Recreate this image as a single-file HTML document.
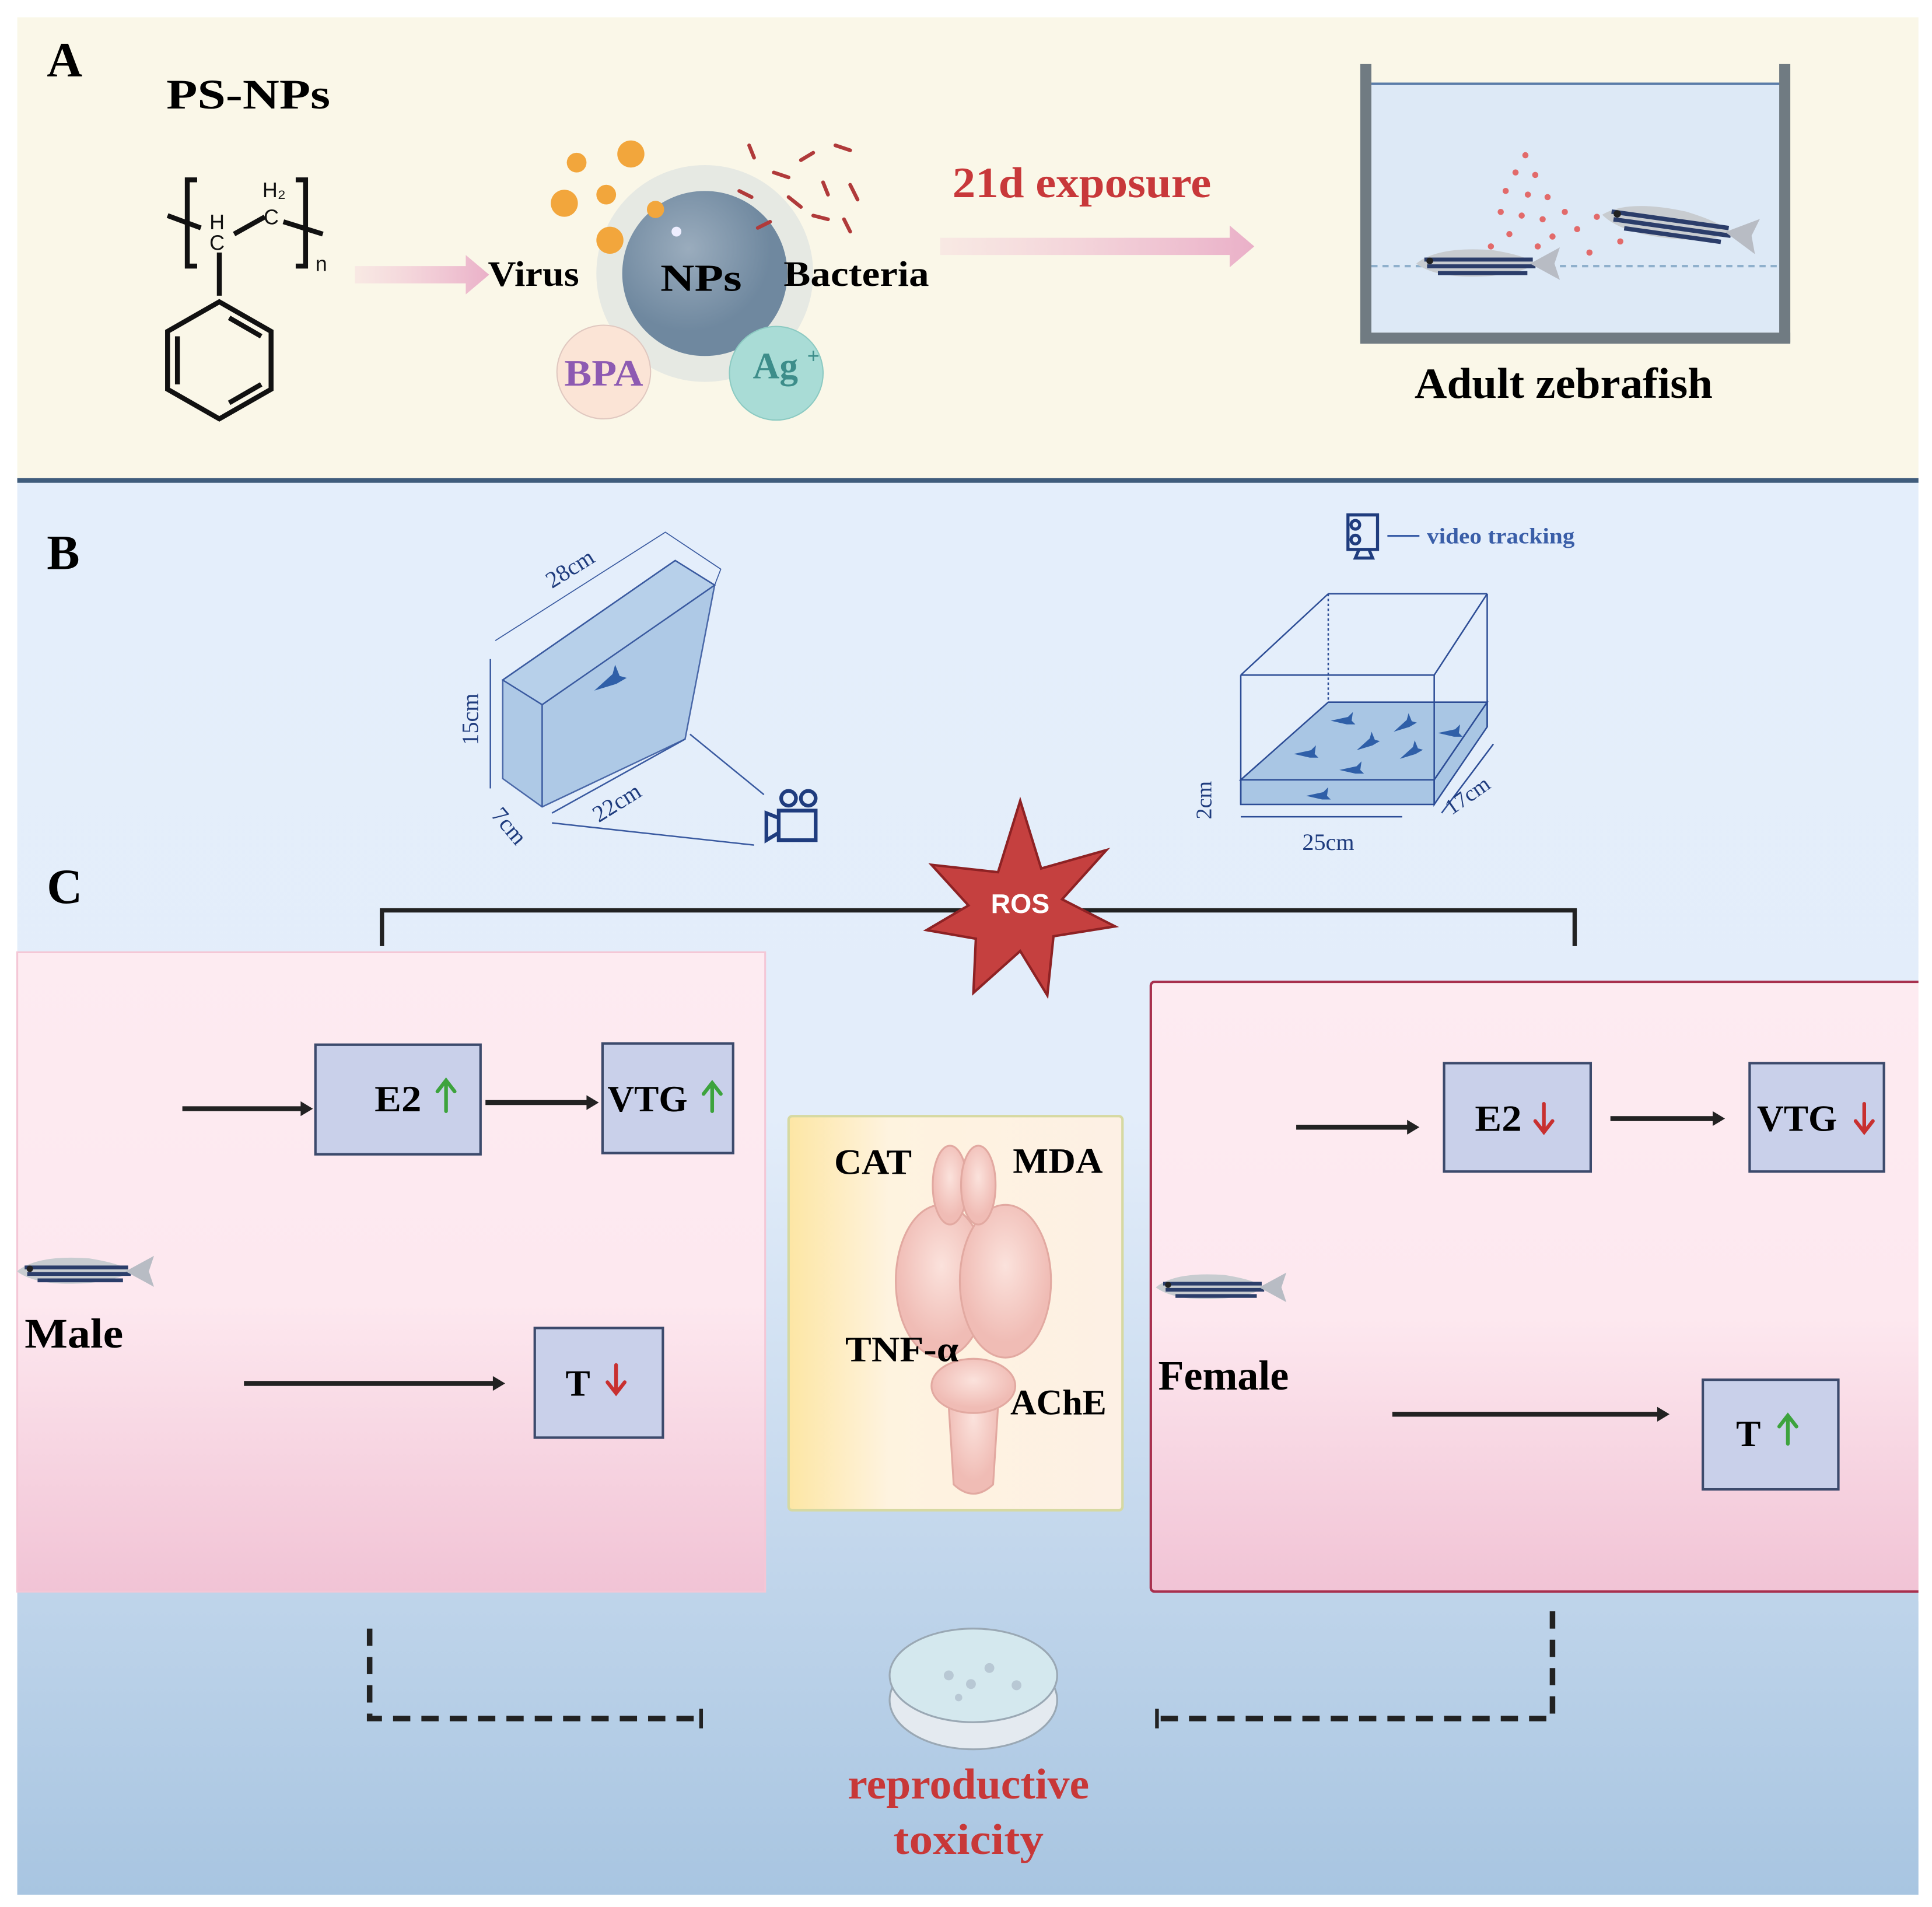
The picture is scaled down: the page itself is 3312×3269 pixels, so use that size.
<!DOCTYPE html>
<html><head><meta charset="utf-8"><style>html,body{margin:0;padding:0;background:#fff}svg{display:block}text{font-family:"Liberation Serif",serif;font-weight:bold}</style></head><body>
<svg width="3312" height="3269" viewBox="0 0 1568 1548" preserveAspectRatio="none" xmlns="http://www.w3.org/2000/svg">
<defs>
<linearGradient id="bg" x1="0" y1="0" x2="0" y2="1"><stop offset="0" stop-color="#e4eefb"/><stop offset="0.45" stop-color="#e3edfa"/><stop offset="0.75" stop-color="#c3d7ec"/><stop offset="1" stop-color="#a8c5e1"/></linearGradient>
<linearGradient id="pk" x1="0" y1="0" x2="0" y2="1"><stop offset="0" stop-color="#fdebf1"/><stop offset="0.55" stop-color="#fde8ef"/><stop offset="1" stop-color="#f1c3d5"/></linearGradient>
<linearGradient id="yl" x1="0" y1="0" x2="1" y2="0"><stop offset="0" stop-color="#fde6a4"/><stop offset="0.3" stop-color="#fef3df"/><stop offset="1" stop-color="#fdf0e4"/></linearGradient>
<linearGradient id="pa" x1="0" y1="0" x2="1" y2="0"><stop offset="0" stop-color="#f3c8d8" stop-opacity="0.3"/><stop offset="1" stop-color="#eab0c8"/></linearGradient>
<radialGradient id="np" cx="0.4" cy="0.35"><stop offset="0" stop-color="#9aacbd"/><stop offset="1" stop-color="#6f889f"/></radialGradient>
<radialGradient id="br" cx="0.5" cy="0.4"><stop offset="0" stop-color="#fbe2dc"/><stop offset="1" stop-color="#f0bcb5"/></radialGradient>
<g id="fish"><path d="M-46 0 Q-30 -13 10 -10 Q35 -6 42 0 Q35 6 10 9 Q-30 12 -46 0Z" fill="#c8ccd0"/><path d="M-40 -3 L40 -3 M-38 2 L42 2 M-30 7 L36 7" stroke="#2b3d6a" stroke-width="3"/><path d="M38 0 L60 -12 L56 0 L60 12 Z" fill="#b8bcc4"/><circle cx="-36" cy="-2" r="2.5" fill="#222"/></g>
<g id="tf"><path d="M-8 0 L6 -3 L10 -7 L9 0 L12 3 L5 3 Z" fill="#2f5fa8"/></g>
</defs>
<rect width="1568" height="1548" fill="#fff"/>
<rect x="14" y="14" width="1543" height="376" fill="#faf7e8"/>
<rect x="14" y="388" width="1543" height="4" fill="#3f5c7c"/>
<rect x="14" y="392" width="1543" height="1146" fill="url(#bg)"/>
<text x="38" y="62" font-size="40">A</text>
<text x="38" y="462" font-size="40">B</text>
<text x="38" y="733" font-size="40">C</text>
<text x="135" y="88" font-size="34" textLength="133" lengthAdjust="spacingAndGlyphs">PS-NPs</text>
<g stroke="#111" stroke-width="4" fill="none">
<path d="M160 146 L152 146 L152 216 L160 216"/><path d="M240 146 L248 146 L248 216 L240 216"/>
<path d="M136 175 L163 185 M190 190 L215 176 M230 180 L262 190"/>
<line x1="178" y1="205" x2="178" y2="240"/>
<polygon points="178,245 220,269 220,316 178,340 136,316 136,269"/>
<path d="M186 258 L212 273 M212 312 L186 327 M144 312 L144 273"/>
</g>
<g fill="#111"><text x="170" y="186" font-size="17" style="font-weight:normal;font-family:'Liberation Sans'">H</text><text x="170" y="203" font-size="17" style="font-weight:normal;font-family:'Liberation Sans'">C</text><text x="213" y="160" font-size="17" style="font-weight:normal;font-family:'Liberation Sans'">H₂</text><text x="214" y="182" font-size="17" style="font-weight:normal;font-family:'Liberation Sans'">C</text><text x="256" y="220" font-size="17" style="font-weight:normal;font-family:'Liberation Sans'">n</text></g>
<path d="M288 216 L378 216 L378 207 L397 223 L378 239 L378 230 L288 230 Z" fill="url(#pa)"/>
<path d="M763 193 L998 193 L998 183 L1018 200 L998 217 L998 207 L763 207 Z" fill="url(#pa)"/>
<circle cx="572" cy="222" r="88" fill="#d9dfe0" opacity="0.6"/>
<circle cx="572" cy="222" r="67" fill="url(#np)"/>
<circle cx="549" cy="188" r="4" fill="#eef"/>
<circle cx="490" cy="302" r="38" fill="#fbe4d6" stroke="#e0c8c0"/>
<circle cx="630" cy="303" r="38" fill="#a9dcd6" stroke="#8ccac2"/>
<text x="396" y="232" font-size="29" textLength="74" lengthAdjust="spacingAndGlyphs">Virus</text>
<text x="536" y="236" font-size="31" textLength="66" lengthAdjust="spacingAndGlyphs">NPs</text>
<text x="636" y="232" font-size="29" textLength="118" lengthAdjust="spacingAndGlyphs">Bacteria</text>
<text x="458" y="313" font-size="30" fill="#8d5ab2" textLength="64" lengthAdjust="spacingAndGlyphs">BPA</text>
<text x="611" y="307" font-size="30" fill="#3d8d8a">Ag</text><text x="655" y="295" font-size="18" fill="#3d8d8a">+</text>
<g fill="#f2a63c"><circle cx="468" cy="132" r="8"/><circle cx="512" cy="125" r="11"/><circle cx="492" cy="158" r="8"/><circle cx="458" cy="165" r="11"/><circle cx="495" cy="195" r="11"/><circle cx="532" cy="170" r="7"/></g>
<g stroke="#b03a3a" stroke-width="3" stroke-linecap="round"><path d="M608 118 L612 128 M628 140 L640 144 M650 130 L660 124 M668 148 L672 158 M690 150 L696 162 M615 185 L625 180 M660 175 L672 178 M640 160 L650 168 M678 118 L690 122 M600 155 L610 160 M685 178 L690 188"/></g>
<text x="773" y="160" font-size="35" fill="#c8383a" textLength="210" lengthAdjust="spacingAndGlyphs">21d exposure</text>
<rect x="1113" y="67" width="332" height="203" fill="#dde9f6"/>
<line x1="1113" y1="68" x2="1445" y2="68" stroke="#5a7ca8" stroke-width="2"/>
<line x1="1113" y1="216" x2="1445" y2="216" stroke="#8fb0cc" stroke-width="2" stroke-dasharray="5,4"/>
<g fill="#707b82"><rect x="1104" y="52" width="9" height="226"/><rect x="1444" y="52" width="9" height="226"/><rect x="1104" y="270" width="349" height="9"/></g>
<g fill="#e26a6a"><circle cx="1238" cy="126" r="2.5"/><circle cx="1230" cy="140" r="2.5"/><circle cx="1246" cy="142" r="2.5"/><circle cx="1222" cy="155" r="2.5"/><circle cx="1240" cy="158" r="2.5"/><circle cx="1256" cy="160" r="2.5"/><circle cx="1218" cy="172" r="2.5"/><circle cx="1235" cy="175" r="2.5"/><circle cx="1252" cy="178" r="2.5"/><circle cx="1270" cy="172" r="2.5"/><circle cx="1225" cy="190" r="2.5"/><circle cx="1260" cy="192" r="2.5"/><circle cx="1280" cy="186" r="2.5"/><circle cx="1296" cy="176" r="2.5"/><circle cx="1248" cy="200" r="2.5"/><circle cx="1290" cy="205" r="2.5"/><circle cx="1210" cy="200" r="2.5"/><circle cx="1315" cy="196" r="2.5"/></g>
<use href="#fish" transform="translate(1200,214) scale(1.1)"/>
<use href="#fish" transform="translate(1355,182) scale(1.2) rotate(8)"/>
<text x="1148" y="323" font-size="35" textLength="242" lengthAdjust="spacingAndGlyphs">Adult zebrafish</text>
<g stroke="#3a5aa0" stroke-width="1.2">
<polygon points="408,552 548,455 580,475 556,600 440,655 408,632" fill="#a9c6e4" opacity="0.9"/>
<polygon points="408,552 548,455 580,475 440,572" fill="#b7d0ea"/>
<line x1="440" y1="572" x2="440" y2="655"/>
<polyline points="402,520 540,432 585,462 580,475" fill="none" stroke-width="0.8"/>
<line x1="398" y1="535" x2="398" y2="640"/>
<line x1="448" y1="660" x2="556" y2="600"/>
<line x1="560" y1="596" x2="620" y2="645"/>
<line x1="448" y1="668" x2="612" y2="686"/>
</g>
<use href="#tf" transform="translate(492,555) rotate(-30) scale(1.4)"/>
<g fill="#1f3c7e" font-size="19"><text transform="translate(448,478) rotate(-32)" style="font-weight:normal">28cm</text><text transform="translate(388,605) rotate(-90)" style="font-weight:normal">15cm</text><text transform="translate(486,668) rotate(-32)" style="font-weight:normal">22cm</text><text transform="translate(398,662) rotate(50)" style="font-weight:normal">7cm</text></g>
<g stroke="#1f3c7e" stroke-width="3" fill="none"><circle cx="640" cy="648" r="6"/><circle cx="656" cy="648" r="6"/><rect x="632" y="658" width="30" height="24"/><path d="M632 664 L622 660 L622 682 L632 676"/></g>
<g stroke="#2d4d96" stroke-width="1.2" fill="none">
<polygon points="1007,633 1164,633 1207,570 1078,570" fill="#a9c6e4"/>
<rect x="1007" y="633" width="157" height="20" fill="#a9c6e4"/>
<polygon points="1164,633 1207,570 1207,590 1164,653" fill="#a9c6e4"/>
<line x1="1007" y1="548" x2="1007" y2="653"/><line x1="1164" y1="548" x2="1164" y2="653"/><line x1="1207" y1="482" x2="1207" y2="590"/>
<line x1="1007" y1="548" x2="1164" y2="548"/><line x1="1007" y1="548" x2="1078" y2="482"/><line x1="1164" y1="548" x2="1207" y2="482"/><line x1="1078" y1="482" x2="1207" y2="482"/>
<line x1="1078" y1="482" x2="1078" y2="570" stroke-dasharray="2,2"/>
<line x1="1007" y1="663" x2="1138" y2="663"/><line x1="1170" y1="660" x2="1212" y2="604"/>
</g>
<g><use href="#tf" transform="translate(1088,585)"/><use href="#tf" transform="translate(1138,590) rotate(-30)"/><use href="#tf" transform="translate(1108,605) rotate(-30)"/><use href="#tf" transform="translate(1058,612)"/><use href="#tf" transform="translate(1095,625)"/><use href="#tf" transform="translate(1143,612) rotate(-30)"/><use href="#tf" transform="translate(1175,595)"/><use href="#tf" transform="translate(1068,646)"/></g>
<g fill="#1f3c7e"><text x="1078" y="690" font-size="19" text-anchor="middle" style="font-weight:normal">25cm</text><text transform="translate(983,665) rotate(-90)" font-size="18" style="font-weight:normal">2cm</text><text transform="translate(1178,662) rotate(-35)" font-size="18" style="font-weight:normal">17cm</text><text x="1158" y="441" font-size="18" fill="#3a5ea8" textLength="120" lengthAdjust="spacingAndGlyphs">video tracking</text></g>
<line x1="1126" y1="435" x2="1152" y2="435" stroke="#3a5ea8" stroke-width="1.5"/>
<g stroke="#1f3c7e" stroke-width="2.5" fill="none"><rect x="1094" y="418" width="24" height="28"/><circle cx="1100" cy="426" r="3.5"/><circle cx="1100" cy="438" r="3.5"/><path d="M1103 446 L1100 453 L1114 453 L1111 446"/></g>
<path d="M310 768 L310 739 L1278 739 L1278 768" stroke="#222" stroke-width="3.5" fill="none"/>
<rect x="14" y="773" width="607" height="519" fill="url(#pk)" stroke="#f4c7d6" stroke-width="1.5"/>
<rect x="934" y="797" width="640" height="495" rx="3" fill="url(#pk)" stroke="#a8304e" stroke-width="2"/>
<rect x="1557" y="790" width="11" height="510" fill="#fff"/>
<polygon points="828,650 845,705 898,690 862,730 905,752 855,760 850,808 828,772 790,806 792,762 752,755 786,735 756,702 810,708" fill="#c5403f" stroke="#8e2224" stroke-width="2"/>
<text x="828" y="741" font-size="22" fill="#fff" text-anchor="middle" style="font-family:'Liberation Sans'">ROS</text>
<g fill="#c9d0ea" stroke="#3c4a6c" stroke-width="2">
<rect x="256" y="848" width="134" height="89"/><rect x="489" y="847" width="106" height="89"/><rect x="434" y="1078" width="104" height="89"/>
<rect x="1172" y="863" width="119" height="88"/><rect x="1420" y="863" width="109" height="88"/><rect x="1382" y="1120" width="110" height="89"/>
</g>
<g font-size="30"><text x="304" y="902" textLength="38" lengthAdjust="spacingAndGlyphs">E2</text><text x="493" y="902" textLength="65" lengthAdjust="spacingAndGlyphs">VTG</text><text x="459" y="1133">T</text><text x="1197" y="918" textLength="38" lengthAdjust="spacingAndGlyphs">E2</text><text x="1426" y="918" textLength="65" lengthAdjust="spacingAndGlyphs">VTG</text><text x="1409" y="1174">T</text></g>
<g stroke-width="3" fill="none" stroke-linecap="round">
<g stroke="#3da33d"><path d="M362 902 L362 878 M355 886 L362 877 L369 886"/><path d="M578 902 L578 880 M571 888 L578 879 L585 888"/><path d="M1451 1172 L1451 1150 M1444 1158 L1451 1149 L1458 1158"/><path d="M858 985 L858 963 M851 971 L858 962 L865 971"/><path d="M739 1139 L739 1117 M732 1125 L739 1116 L746 1125"/></g>
<g stroke="#c83030"><path d="M500 1108 L500 1130 M493 1122 L500 1131 L507 1122"/><path d="M1253 896 L1253 918 M1246 910 L1253 919 L1260 910"/><path d="M1513 896 L1513 918 M1506 910 L1513 919 L1520 910"/><path d="M708 966 L708 988 M701 980 L708 989 L715 980"/><path d="M858 1162 L858 1184 M851 1176 L858 1185 L865 1176"/></g>
</g>
<g stroke="#222" stroke-width="4"><line x1="148" y1="900" x2="246" y2="900"/><line x1="394" y1="895" x2="478" y2="895"/><line x1="198" y1="1123" x2="402" y2="1123"/><line x1="1052" y1="915" x2="1144" y2="915"/><line x1="1307" y1="908" x2="1392" y2="908"/><line x1="1130" y1="1148" x2="1347" y2="1148"/></g>
<g fill="#222"><path d="M244 894 L254 900 L244 906Z"/><path d="M476 889 L486 895 L476 901Z"/><path d="M400 1117 L410 1123 L400 1129Z"/><path d="M1142 909 L1152 915 L1142 921Z"/><path d="M1390 902 L1400 908 L1390 914Z"/><path d="M1345 1142 L1355 1148 L1345 1154Z"/></g>
<use href="#fish" transform="translate(62,1032) scale(1.05)"/>
<use href="#fish" transform="translate(984,1045) scale(1.0)"/>
<text x="20" y="1094" font-size="34" textLength="80" lengthAdjust="spacingAndGlyphs">Male</text>
<text x="940" y="1128" font-size="34" textLength="106" lengthAdjust="spacingAndGlyphs">Female</text>
<rect x="640" y="906" width="271" height="320" rx="3" fill="url(#yl)" stroke="#d6d9a2" stroke-width="2"/>
<g fill="url(#br)" stroke="#e2a9a1" stroke-width="1.5">
<path d="M768 1110 L812 1110 L806 1205 Q790 1220 774 1205 Z"/>
<ellipse cx="790" cy="1125" rx="34" ry="22"/>
<ellipse cx="764" cy="1040" rx="37" ry="62"/><ellipse cx="816" cy="1040" rx="37" ry="62"/>
<ellipse cx="771" cy="962" rx="14" ry="32"/><ellipse cx="794" cy="962" rx="14" ry="32"/>
</g>
<g font-size="29"><text x="677" y="953" textLength="63" lengthAdjust="spacingAndGlyphs">CAT</text><text x="822" y="952" textLength="73" lengthAdjust="spacingAndGlyphs">MDA</text><text x="686" y="1105" textLength="92" lengthAdjust="spacingAndGlyphs">TNF-α</text><text x="820" y="1148" textLength="78" lengthAdjust="spacingAndGlyphs">AChE</text></g>
<g stroke="#222" stroke-width="4.5" fill="none" stroke-dasharray="14,9"><path d="M300 1322 L300 1395 L568 1395"/><path d="M1260 1308 L1260 1395 L940 1395"/></g>
<g stroke="#222" stroke-width="3"><line x1="569" y1="1387" x2="569" y2="1403"/><line x1="939" y1="1387" x2="939" y2="1403"/></g>
<ellipse cx="790" cy="1380" rx="68" ry="40" fill="#e4eaf0" stroke="#9aa8b4" stroke-width="1.5"/>
<ellipse cx="790" cy="1360" rx="68" ry="38" fill="#d4e8ee" stroke="#9aa8b4" stroke-width="1.5"/>
<g fill="#b8c8d4"><circle cx="770" cy="1360" r="4"/><circle cx="788" cy="1367" r="4"/><circle cx="803" cy="1354" r="4"/><circle cx="825" cy="1368" r="4"/><circle cx="778" cy="1378" r="3"/></g>
<g font-size="35" fill="#c83838"><text x="688" y="1460" textLength="196" lengthAdjust="spacingAndGlyphs">reproductive</text><text x="725" y="1505" textLength="122" lengthAdjust="spacingAndGlyphs">toxicity</text></g>
</svg>
</body></html>
